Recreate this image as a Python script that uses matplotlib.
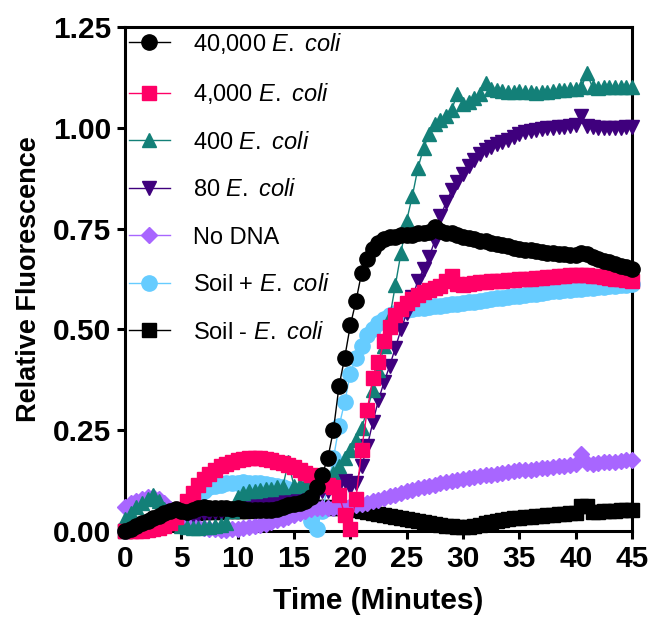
import numpy as np
import matplotlib
matplotlib.use("Agg")
import matplotlib.pyplot as plt

plt.rcParams['font.family'] = ['Liberation Sans', 'DejaVu Sans']
plt.rcParams['mathtext.fontset'] = 'custom'
plt.rcParams['mathtext.rm'] = 'Liberation Sans'
plt.rcParams['mathtext.it'] = 'Liberation Sans:italic'

minutes = np.arange(0, 45.5, 0.5)

ecoli_40000 = [0.0, 0.005, 0.012, 0.02, 0.025, 0.032, 0.038, 0.045, 0.05, 0.055,
               0.05, 0.048, 0.052, 0.058, 0.06, 0.058, 0.057, 0.058, 0.057, 0.055,
               0.056, 0.054, 0.053, 0.052, 0.053, 0.052, 0.052, 0.055, 0.06, 0.065,
               0.068, 0.07, 0.075, 0.085, 0.11, 0.14, 0.18, 0.25, 0.36, 0.43,
               0.51, 0.57, 0.64, 0.675, 0.7, 0.715, 0.725, 0.728, 0.73, 0.733,
               0.735, 0.735, 0.738, 0.74, 0.742, 0.755, 0.745, 0.74, 0.738, 0.735,
               0.73, 0.727, 0.724, 0.72, 0.718, 0.715, 0.712, 0.71, 0.707, 0.703,
               0.7, 0.698, 0.697, 0.695, 0.692, 0.69, 0.69, 0.688, 0.686, 0.685,
               0.685, 0.69, 0.688, 0.68, 0.675, 0.67, 0.667, 0.662, 0.658, 0.654,
               0.65]

ecoli_4000 = [0.0, 0.0, 0.0, 0.0, 0.002, 0.005, 0.008, 0.012, 0.02, 0.035,
              0.055, 0.075, 0.095, 0.115, 0.13, 0.142, 0.152, 0.16, 0.166, 0.171,
              0.175, 0.178, 0.18, 0.181, 0.18, 0.178, 0.176, 0.172, 0.168, 0.163,
              0.158, 0.152, 0.145, 0.138, 0.13, 0.12, 0.115, 0.11, 0.09, 0.04,
              0.005, 0.08, 0.2, 0.3, 0.38, 0.42, 0.47, 0.507, 0.535, 0.55,
              0.565, 0.575, 0.585, 0.592, 0.598, 0.603, 0.607, 0.62, 0.632, 0.612,
              0.61, 0.612, 0.615, 0.617, 0.618, 0.62, 0.62, 0.62, 0.622, 0.623,
              0.624, 0.625, 0.626, 0.627, 0.628, 0.629, 0.63, 0.632, 0.633, 0.635,
              0.636, 0.635, 0.634, 0.633, 0.632, 0.63, 0.628, 0.626, 0.624, 0.622,
              0.62]

ecoli_400 = [0.03, 0.045, 0.06, 0.07, 0.08, 0.09, 0.075, 0.055, 0.035, 0.02,
             0.012, 0.01, 0.008, 0.008, 0.01, 0.01, 0.012, 0.015, 0.02, 0.05,
             0.085, 0.095, 0.1, 0.1, 0.102, 0.104, 0.105, 0.108, 0.11, 0.17,
             0.112, 0.113, 0.115, 0.118, 0.12, 0.128, 0.135, 0.145, 0.16, 0.18,
             0.2, 0.225, 0.255, 0.3, 0.35, 0.4, 0.46, 0.53, 0.61, 0.69,
             0.77, 0.83, 0.9, 0.95, 0.985, 1.01, 1.02, 1.03, 1.045, 1.085,
             1.06, 1.065, 1.075, 1.085, 1.11, 1.095, 1.093, 1.092, 1.09, 1.09,
             1.092, 1.09, 1.088, 1.087, 1.088, 1.09, 1.092, 1.093, 1.094, 1.095,
             1.096, 1.1, 1.135, 1.1, 1.098, 1.1, 1.1, 1.1, 1.1, 1.101,
             1.102]

ecoli_80 = [0.0, 0.005, 0.01, 0.015, 0.02, 0.025, 0.03, 0.032, 0.035, 0.037,
            0.038, 0.04, 0.04, 0.042, 0.044, 0.045, 0.047, 0.048, 0.05, 0.052,
            0.055, 0.058, 0.06, 0.062, 0.065, 0.068, 0.07, 0.074, 0.078, 0.082,
            0.085, 0.088, 0.09, 0.093, 0.095, 0.098, 0.1, 0.105, 0.115, 0.125,
            0.11, 0.12, 0.16, 0.21, 0.27, 0.325, 0.37, 0.41, 0.455, 0.5,
            0.54, 0.58, 0.62, 0.65, 0.68, 0.72, 0.78, 0.815, 0.845, 0.865,
            0.885, 0.905, 0.92, 0.935, 0.945, 0.953, 0.96, 0.965, 0.97, 0.978,
            0.985, 0.99, 0.993, 0.995, 0.998, 1.0, 1.0, 1.002, 1.003, 1.005,
            1.008, 1.03, 1.005, 1.003, 1.0, 1.0, 1.0, 1.0, 1.0, 1.002,
            1.003]

no_dna = [0.06, 0.07, 0.075, 0.08, 0.085, 0.085, 0.08, 0.07, 0.055, 0.04,
          0.03, 0.02, 0.015, 0.01, 0.008, 0.005, 0.004, 0.003, 0.003, 0.004,
          0.005, 0.007, 0.01, 0.012, 0.015, 0.018, 0.022, 0.026, 0.03, 0.035,
          0.04, 0.045, 0.05, 0.055, 0.057, 0.058, 0.058, 0.058, 0.058, 0.06,
          0.062, 0.064, 0.067, 0.07, 0.074, 0.078, 0.082, 0.086, 0.09, 0.094,
          0.098, 0.102, 0.106, 0.109, 0.112, 0.115, 0.118, 0.121, 0.124, 0.127,
          0.13, 0.132, 0.134, 0.136, 0.138, 0.14, 0.142, 0.144, 0.146, 0.148,
          0.15, 0.151, 0.152, 0.154, 0.155, 0.157, 0.159, 0.16, 0.161, 0.163,
          0.165, 0.19, 0.168, 0.166, 0.168, 0.17, 0.171, 0.172, 0.174, 0.176,
          0.177]

soil_plus = [0.0, 0.003, 0.006, 0.01, 0.013, 0.016, 0.02, 0.023, 0.027, 0.032,
             0.04, 0.052, 0.068, 0.085, 0.1, 0.108, 0.112, 0.115, 0.118, 0.12,
             0.12, 0.121, 0.12, 0.119, 0.118, 0.116, 0.114, 0.112, 0.11, 0.105,
             0.1, 0.09, 0.065, 0.025, 0.005, 0.05, 0.11, 0.18, 0.26, 0.32,
             0.39, 0.43, 0.46, 0.485, 0.5, 0.515, 0.525, 0.535, 0.54, 0.545,
             0.548, 0.55, 0.552, 0.554, 0.556, 0.557, 0.558, 0.56, 0.562, 0.563,
             0.565, 0.567, 0.569, 0.571, 0.573, 0.575, 0.577, 0.579, 0.58, 0.582,
             0.584, 0.586, 0.588, 0.589, 0.59, 0.592, 0.594, 0.595, 0.597, 0.598,
             0.6, 0.601, 0.602, 0.603, 0.605, 0.606, 0.607, 0.608, 0.61, 0.611,
             0.612]

soil_minus = [0.0, 0.005, 0.01, 0.015, 0.02, 0.025, 0.03, 0.033, 0.036, 0.038,
              0.04, 0.042, 0.044, 0.045, 0.046, 0.047, 0.048, 0.048, 0.049, 0.05,
              0.05, 0.05, 0.05, 0.051, 0.052, 0.053, 0.054, 0.055, 0.056, 0.057,
              0.058, 0.059, 0.06, 0.06, 0.06, 0.06, 0.06, 0.058, 0.057, 0.056,
              0.055, 0.053, 0.05, 0.048, 0.045, 0.043, 0.04, 0.038, 0.035, 0.032,
              0.03, 0.027, 0.025, 0.022, 0.02, 0.017, 0.015, 0.013, 0.012, 0.011,
              0.01, 0.011, 0.012, 0.016, 0.02, 0.023, 0.025, 0.028, 0.03, 0.031,
              0.032, 0.034, 0.035, 0.036, 0.038, 0.039, 0.04, 0.041, 0.042, 0.044,
              0.045, 0.062, 0.062, 0.048, 0.048, 0.049, 0.05, 0.05, 0.051, 0.052,
              0.052]

labels = [r"40,000 $\mathit{E.}$ $\mathit{coli}$", r"4,000 $\mathit{E.}$ $\mathit{coli}$",
          r"400 $\mathit{E.}$ $\mathit{coli}$", r"80 $\mathit{E.}$ $\mathit{coli}$", "No DNA",
          r"Soil + $\mathit{E.}$ $\mathit{coli}$", r"Soil - $\mathit{E.}$ $\mathit{coli}$"]
series = [ecoli_40000, ecoli_4000, ecoli_400, ecoli_80, no_dna, soil_plus, soil_minus]
colors = ["#000000", "#FF0066", "#138078", "#3F007D", "#A866FF", "#66CCFF", "#000000"]
markers = ["o", "s", "^", "v", "D", "o", "s"]
msizes = [11, 10, 10.5, 10.5, 8.5, 11, 10]

fig = plt.figure(figsize=(6.51, 6.28), dpi=100)
ax = fig.add_axes([0.192, 0.1545, 0.7788, 0.8025])

# first series on top, like the original
n = len(series)
for i, (y, lab, c, m, ms) in enumerate(zip(series, labels, colors, markers, msizes)):
    ax.plot(minutes, y, color=c, marker=m, markersize=ms, markeredgecolor=c,
            linewidth=1, label=lab, zorder=10 + n - i, clip_on=False)

ax.set_xlim(0, 45)
ax.set_ylim(0, 1.25)
ax.set_xticks(np.arange(0, 46, 5))
ax.set_yticks([0, 0.25, 0.5, 0.75, 1.0, 1.25])
ax.set_yticklabels(["0.00", "0.25", "0.50", "0.75", "1.00", "1.25"])

for sp in ax.spines.values():
    sp.set_linewidth(2.2)
ax.tick_params(axis='both', which='major', direction='out', length=6, width=2.2,
               labelsize=21.5, pad=4)
for lbl in ax.get_xticklabels() + ax.get_yticklabels():
    lbl.set_fontweight('bold')

ax.set_xlabel("Time (Minutes)", fontsize=21.5, fontweight='bold', labelpad=10)
ax.set_ylabel("Relative Fluorescence", fontsize=19.5, fontweight='bold', labelpad=8)

leg = ax.legend(loc='upper left', frameon=False, fontsize=17, handlelength=1.75,
                handletextpad=1.0, labelspacing=1.08, borderaxespad=0.0,
                borderpad=0.15)
leg.set_zorder(30)

fig.savefig("out.png", dpi=100)
